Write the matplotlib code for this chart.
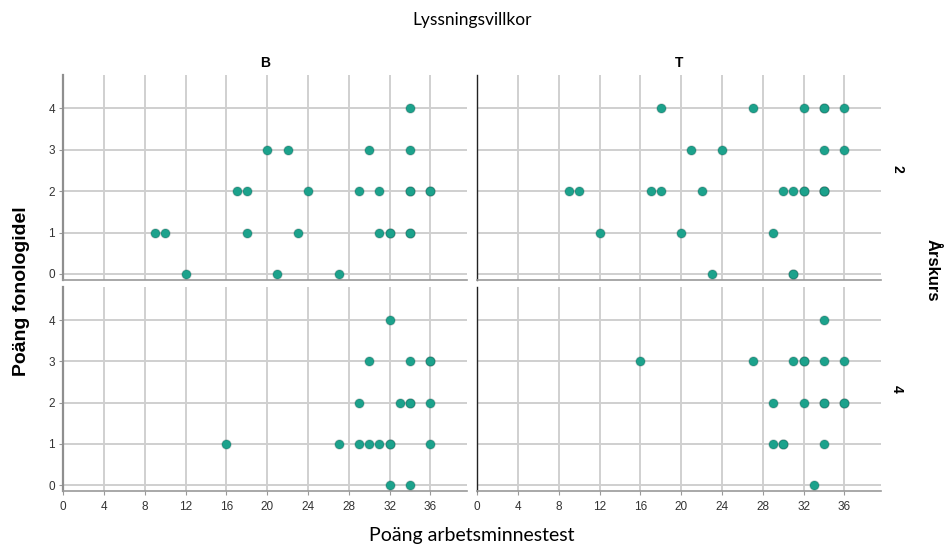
import matplotlib
matplotlib.use("Agg")
import matplotlib.pyplot as plt

# Lyssningsvillkor B / T, årskurs 2 / 4
b2_x = [34, 20, 22, 30, 34, 17, 18, 24, 29, 31, 34, 34, 36, 36,
        9, 10, 18, 23, 31, 32, 32, 34, 34, 12, 21, 27]
b2_y = [4, 3, 3, 3, 3, 2, 2, 2, 2, 2, 2, 2, 2, 2,
        1, 1, 1, 1, 1, 1, 1, 1, 1, 0, 0, 0]

t2_x = [18, 27, 32, 34, 34, 36, 21, 24, 34, 36,
        9, 10, 17, 18, 22, 30, 31, 32, 32, 34, 34, 34,
        12, 20, 29, 23, 31, 31]
t2_y = [4, 4, 4, 4, 4, 4, 3, 3, 3, 3,
        2, 2, 2, 2, 2, 2, 2, 2, 2, 2, 2, 2,
        1, 1, 1, 0, 0, 0]

b4_x = [32, 30, 34, 36, 36, 29, 33, 34, 34, 36,
        16, 27, 29, 30, 31, 32, 32, 36, 32, 34]
b4_y = [4, 3, 3, 3, 3, 2, 2, 2, 2, 2,
        1, 1, 1, 1, 1, 1, 1, 1, 0, 0]

t4_x = [34, 16, 27, 31, 32, 32, 34, 36, 29, 32, 34, 34, 36, 36,
        29, 30, 30, 34, 33]
t4_y = [4, 3, 3, 3, 3, 3, 3, 3, 2, 2, 2, 2, 2, 2,
        1, 1, 1, 1, 0]

col_labels = ["B", "T"]
row_labels = ["2", "4"]
x_ticks = [0, 4, 8, 12, 16, 20, 24, 28, 32, 36]
y_ticks = [0, 1, 2, 3, 4]

W, H = 946, 547
fig = plt.figure(figsize=(W / 100, H / 100), dpi=100)


def px_axes(x0, y0, x1, y1):
    return fig.add_axes([x0 / W, (H - y1) / H, (x1 - x0) / W, (y1 - y0) / H])


cols_px = [(63.3, 467), (477.3, 881)]
rows_px = [(75, 280), (287, 491)]
panels = [[(b2_x, b2_y), (t2_x, t2_y)], [(b4_x, b4_y), (t4_x, t4_y)]]

dot = "#1ca28c"
edge = (0.02, 0.22, 0.19, 0.22)
tick_font = ["Liberation Sans Narrow", "Liberation Sans", "DejaVu Sans"]

for r, (y0, y1) in enumerate(rows_px):
    for c, (x0, x1) in enumerate(cols_px):
        ax = px_axes(x0, y0, x1, y1)
        xs, ys = panels[r][c]
        ax.set_xlim(0, 39.58)
        ax.set_ylim(-0.145, 4.8)
        for v in x_ticks[1:]:
            ax.axvline(v, color="#c4c4c4", lw=1.1, zorder=0)
        for v in y_ticks:
            ax.axhline(v, color="#cfcfcf", lw=1.4, zorder=0)
        ax.scatter(xs, ys, s=42, facecolors=dot, edgecolors=[edge],
                   linewidths=1.0, zorder=3, clip_on=False)
        for s in ["top", "right"]:
            ax.spines[s].set_visible(False)
        ax.spines["bottom"].set_color("#9a9a9a")
        ax.spines["bottom"].set_linewidth(1.2)
        if c == 0:
            ax.spines["left"].set_color("#8f8f8f")
            ax.spines["left"].set_linewidth(1.6)
            ax.set_yticks(y_ticks)
            ax.set_yticklabels([str(v) for v in y_ticks], family=tick_font,
                               fontsize=8.5, color="#333333")
            ax.tick_params(axis="y", length=3, width=0.8, color="#999999", pad=3)
        else:
            ax.spines["left"].set_color("#222222")
            ax.spines["left"].set_linewidth(1.0)
            ax.set_yticks([])
        if r == 1:
            ax.set_xticks(x_ticks)
            ax.set_xticklabels([str(v) for v in x_ticks], family=tick_font,
                               fontsize=8.5, color="#333333")
            ax.tick_params(axis="x", length=3, width=0.8, color="#999999", pad=4)
        else:
            ax.set_xticks([])
        if r == 0:
            ax.text(0.5, 1.06, col_labels[c], transform=ax.transAxes,
                    ha="center", va="center", fontsize=10, fontweight="bold",
                    family="Liberation Sans")
        if c == 1:
            ax.text(1.04, 0.5 if r == 1 else 0.54, row_labels[r], transform=ax.transAxes,
                    ha="center", va="center", rotation=-90, fontsize=10,
                    fontweight="bold", family="Liberation Sans")

fig.text(472 / W, 1 - 20 / H, "Lyssningsvillkor", ha="center", va="center",
         fontsize=12.5, family=["Lato", "DejaVu Sans"])
fig.text(472 / W, 1 - 536 / H, "Poäng arbetsminnestest", ha="center", va="center",
         fontsize=14, family=["Lato", "DejaVu Sans"])
fig.text(22 / W, 1 - 291 / H, "Poäng fonologidel", ha="center", va="center",
         rotation=90, fontsize=14, fontweight="bold", family="Liberation Sans")
fig.text(932 / W, 1 - 270 / H, "Årskurs", ha="center", va="center",
         rotation=-90, fontsize=12, fontweight="bold", family="Liberation Sans")

fig.savefig("out.png", dpi=100)
